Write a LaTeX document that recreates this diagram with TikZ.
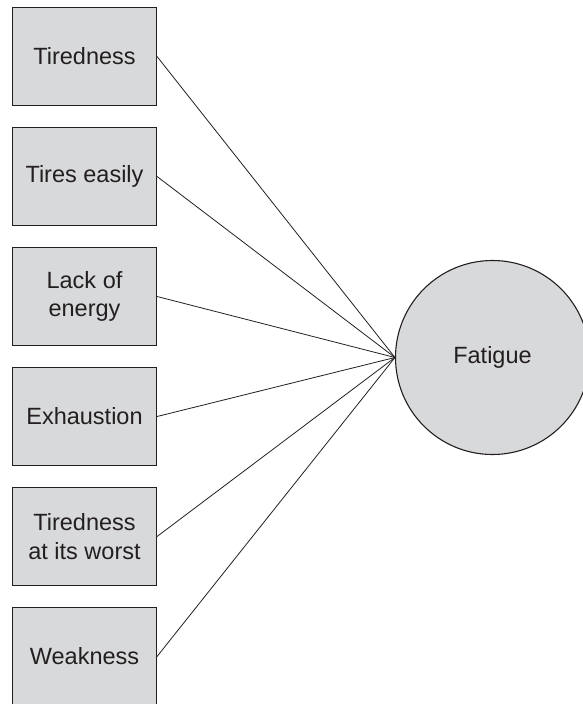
\documentclass[tikz,border=0pt]{standalone}
\usepackage{fontspec}
\setmainfont{Liberation Sans}
\usepackage{tikz}
\usetikzlibrary{calc}

\definecolor{boxgray}{RGB}{216,217,219}
\definecolor{inkgray}{RGB}{35,31,32}

\begin{document}
\begin{tikzpicture}[x=1pt,y=-1pt]

		\useasboundingbox (0,0) rectangle (582,704);

		\tikzset{ItemStyle/.style =
				{shape=rectangle, draw=inkgray, fill=boxgray, line width=1.1pt,
				minimum width=144pt, minimum height=97.5pt, inner sep=0pt,
				align=center, text=inkgray,
				font=\fontsize{23.5}{28.5}\selectfont}
		}
		\tikzset{FactorStyle/.style =
				{shape=circle, draw=inkgray, fill=boxgray, line width=1.1pt,
				minimum size=194pt, inner sep=0pt, text=inkgray,
				font=\fontsize{23.5}{28.5}\selectfont}
		}

		%items
		\node[ItemStyle] (tiredness) at (84.5,56.5) {Tiredness};
		\node[ItemStyle] (tires) at (84.5,176.5) {Tires easily};
		\node[ItemStyle] (energy) at (84.5,296.5) {Lack of\\energy};
		\node[ItemStyle] (exhaustion) at (84.5,416.5) {Exhaustion};
		\node[ItemStyle] (worst) at (84.5,536.5) {Tiredness\\at its worst};
		\node[ItemStyle] (weakness) at (84.5,656.5) {Weakness};

		%factor
		\node[FactorStyle] (fatigue) at (492.5,357.5) {Fatigue};

		%loadings
		\tikzstyle{EdgeStyle}=[color=inkgray, line width=0.8pt]
		\foreach \item in {tiredness,tires,energy,exhaustion,worst,weakness}
			\draw[EdgeStyle] (\item.east) -- (fatigue.west);
	\end{tikzpicture}
\end{document}
